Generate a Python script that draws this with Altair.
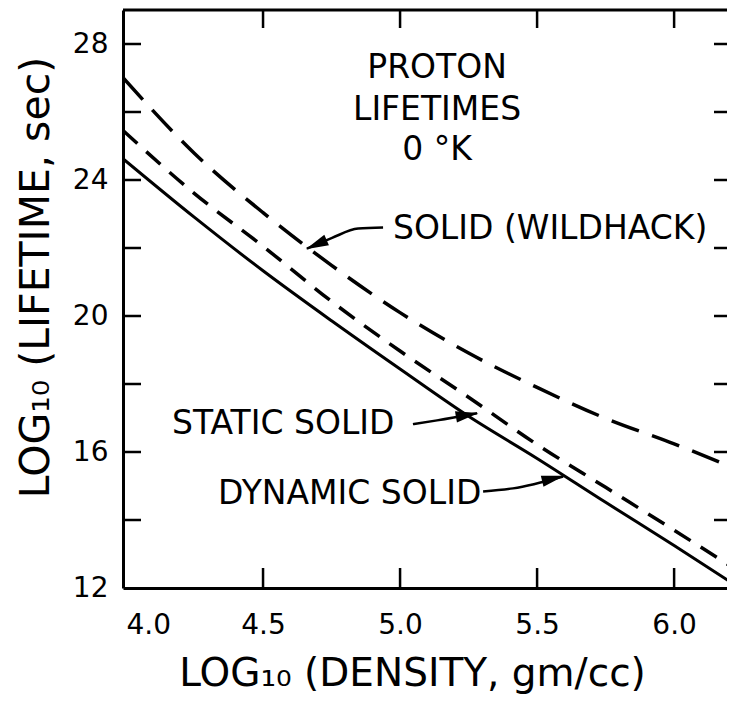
import altair as alt
import pandas as pd

FONT = "DejaVu Sans"

# scale extents
X_MIN, X_MAX = 3.989, 6.193
Y_MIN, Y_MAX = 12, 29

# curves: log10 density vs log10 lifetime (sec)
density = [3.99, 4.25, 4.5, 4.75, 5.0, 5.25, 5.5, 5.75, 6.0, 6.22]
wildhack = [27.0, 24.78, 23.04, 21.49, 20.10, 18.91, 17.90, 16.99, 16.24, 15.52]
static_solid = [25.45, 23.60, 22.05, 20.43, 18.97, 17.61, 16.22, 14.96, 13.70, 12.57]
dynamic_solid = [24.62, 22.90, 21.33, 19.86, 18.44, 17.05, 15.81, 14.52, 13.25, 12.10]

# axis ticks / labels
x_ticks = [4.5, 5.0, 5.5, 6.0]
x_labels = [4.0, 4.5, 5.0, 5.5, 6.0]
y_ticks = [14, 16, 18, 20, 22, 24, 26, 28]
y_labels = [12, 16, 20, 24, 28]

# annotations
title_lines = ["PROTON", "LIFETIMES", "0 °K"]
title_x = [5.135, 5.135, 5.135]
title_y = [26.99, 25.76, 24.58]

label_text = ["SOLID (WILDHACK)", "STATIC SOLID", "DYNAMIC SOLID"]
label_x = [4.974, 4.168, 4.336]
label_y = [22.27, 16.52, 14.46]

arrow_group = ["w", "w", "w", "w", "s", "s", "s", "d", "d", "d"]
arrow_x = [4.938, 4.847, 4.752, 4.66, 5.047, 5.135, 5.281, 5.303, 5.412, 5.595]
arrow_y = [22.60, 22.57, 22.30, 21.98, 16.82, 16.93, 17.14, 14.84, 14.93, 15.28]
arrow_order = [0, 1, 2, 3, 0, 1, 2, 0, 1, 2]

head_x = [4.694, 5.245, 5.559]
head_y = [22.10, 17.09, 15.22]
head_angle = [246, 80, 76.5]


def X(field="x"):
    return alt.X(
        f"{field}:Q",
        scale=alt.Scale(domain=[X_MIN, X_MAX], nice=False, zero=False),
        axis=alt.Axis(
            values=x_labels, format=".1f", ticks=False, tickSize=0, grid=False,
            domain=True, domainColor="black", domainWidth=3,
            labelFont=FONT, labelFontSize=28, labelColor="black",
            labelBaseline="alphabetic", labelPadding=45, labelFlush=6,
            title="LOG₁₀ (DENSITY, gm/cc)", titleFont=FONT, titleFontSize=39,
            titleFontWeight="normal", titleColor="black",
            titleX=289, titleY=97, titleAlign="center", titleBaseline="alphabetic",
        ),
    )


def Y(field="y"):
    return alt.Y(
        f"{field}:Q",
        scale=alt.Scale(domain=[Y_MIN, Y_MAX], nice=False, zero=False),
        axis=alt.Axis(
            values=y_labels, format="d", ticks=False, tickSize=0, grid=False,
            domain=True, domainColor="black", domainWidth=3,
            labelFont=FONT, labelFontSize=28, labelColor="black",
            labelPadding=15, labelFlush=False,
            title="LOG₁₀ (LIFETIME, sec)", titleFont=FONT, titleFontSize=41,
            titleFontWeight="normal", titleColor="black",
            titleX=-75, titleY=267, titleAlign="center", titleBaseline="alphabetic",
            titleAngle=270,
        ),
    )


def curve(vals, dash, width):
    df = pd.DataFrame({"x": density, "y": vals})
    kw = dict(color="black", strokeWidth=width, clip=True, interpolate="monotone")
    if dash:
        kw["strokeDash"] = dash
    return alt.Chart(df).mark_line(**kw).encode(x=X(), y=Y())


wild_layer = curve(wildhack, [29, 14], 3.5)
static_layer = curve(static_solid, [19, 12], 3.5)
dyn_layer = curve(dynamic_solid, None, 3)

# top border
top_rule = alt.Chart(pd.DataFrame({"y": [Y_MAX]})).mark_rule(
    color="black", strokeWidth=3
).encode(y=Y())

# inward ticks
left_ticks = alt.Chart(pd.DataFrame({"x": [X_MIN] * len(y_ticks), "y": y_ticks})).mark_tick(
    orient="horizontal", size=36, thickness=2.5, color="black", clip=True, opacity=1
).encode(x=X(), y=Y())
right_ticks = alt.Chart(pd.DataFrame({"x": [X_MAX] * len(y_ticks), "y": y_ticks})).mark_tick(
    orient="horizontal", size=26, thickness=2.5, color="black", clip=True, opacity=1
).encode(x=X(), y=Y())
bottom_ticks = alt.Chart(pd.DataFrame({"x": x_ticks, "y": [Y_MIN] * len(x_ticks)})).mark_tick(
    orient="vertical", size=40, thickness=2.5, color="black", clip=True, opacity=1
).encode(x=X(), y=Y())
top_ticks = alt.Chart(pd.DataFrame({"x": x_ticks, "y": [Y_MAX] * len(x_ticks)})).mark_tick(
    orient="vertical", size=36, thickness=2.5, color="black", clip=True, opacity=1
).encode(x=X(), y=Y())

# annotation text
title_text = alt.Chart(pd.DataFrame({"x": title_x, "y": title_y, "t": title_lines})).mark_text(
    font=FONT, fontSize=33, color="black", align="center", baseline="alphabetic"
).encode(x=X(), y=Y(), text="t:N")

label_marks = alt.Chart(pd.DataFrame({"x": label_x, "y": label_y, "t": label_text})).mark_text(
    font=FONT, fontSize=33, color="black", align="left", baseline="alphabetic"
).encode(x=X(), y=Y(), text="t:N")

arrow_lines = alt.Chart(pd.DataFrame({"x": arrow_x, "y": arrow_y, "g": arrow_group, "o": arrow_order})).mark_line(
    color="black", strokeWidth=2.5, interpolate="monotone"
).encode(x=X(), y=Y(), detail="g:N", order="o:Q")

arrow_heads = alt.Chart(pd.DataFrame({"x": head_x, "y": head_y, "a": head_angle})).mark_point(
    shape="M0,-1L0.5,1L-0.5,1Z", size=520, filled=True, color="black", opacity=1
).encode(x=X(), y=Y(), angle=alt.Angle("a:Q", scale=None))

chart = alt.layer(
    wild_layer, static_layer, dyn_layer, top_rule,
    left_ticks, right_ticks, bottom_ticks, top_ticks,
    title_text, label_marks, arrow_lines, arrow_heads,
).properties(
    width=604, height=578,
    padding={"left": 115, "top": 2, "right": 0, "bottom": 113},
    autosize=alt.AutoSizeParams(type="none"),
    background="white",
).configure_view(stroke=None)

chart.save("out.html", embed_options={"renderer": "svg", "actions": False})
